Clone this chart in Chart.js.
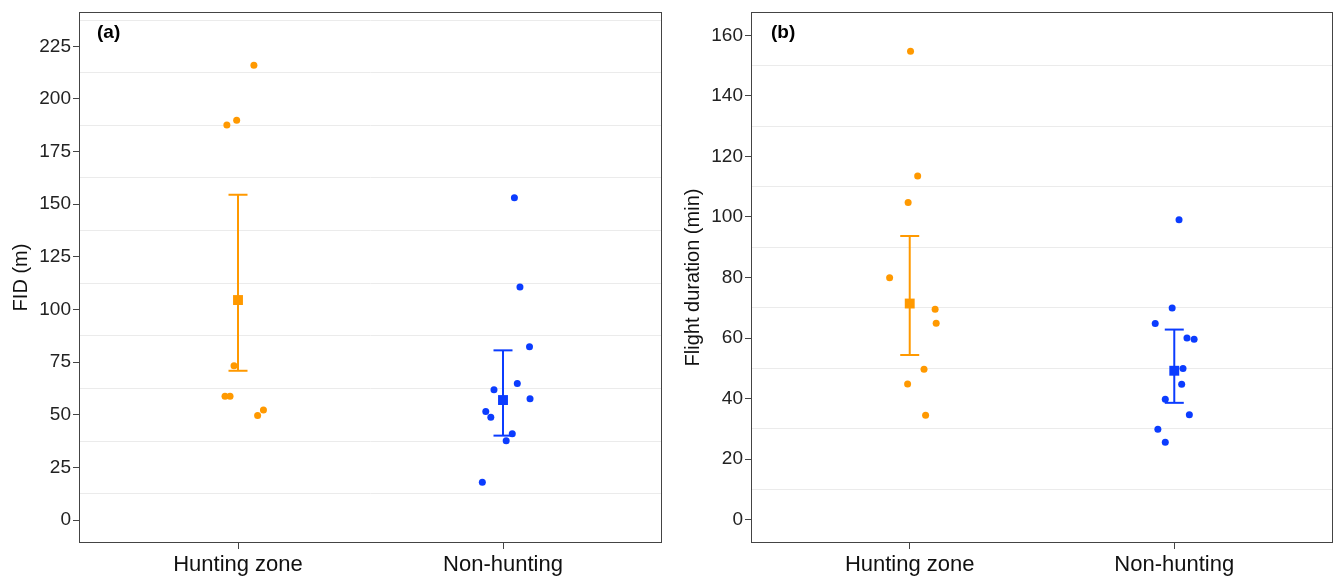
<!DOCTYPE html>
<html>
<head>
<meta charset="utf-8">
<script src="https://cdn.jsdelivr.net/npm/chart.js@4.4.1/dist/chart.umd.min.js"></script>
<style>
  body { margin: 0; background: #fff; }
  #wrap { position: relative; width: 1334px; height: 580px; }
  canvas { position: absolute; top: 0; }
  #chartA { left: 0; }
  #chartB { left: 668px; }
</style>
</head>
<body>
<div id="wrap">
  <canvas id="chartA" width="668" height="580"></canvas>
  <canvas id="chartB" width="666" height="580"></canvas>
</div>
<script>
"use strict"

// categories on the x axis
const groups = ["Hunting zone", "Non-hunting"];

// panel (a) - FID (m), raw points + jitter (in category units)
const fidHunting = [216, 189.9, 187.6, 73.3, 58.8, 58.8, 52.3, 49.7];
const fidHuntingJitter = [0.06, -0.005, -0.042, -0.015, -0.049, -0.03, 0.096, 0.074];
const fidNonHunting = [153.1, 110.7, 82.3, 64.8, 61.9, 57.6, 51.6, 48.8, 41.0, 37.7, 17.9];
const fidNonHuntingJitter = [0.043, 0.064, 0.1, 0.054, -0.034, 0.102, -0.065, -0.046, 0.035, 0.012, -0.078];
// mean and interval per group
const fidMean = [104.5, 57.0];
const fidLow = [70.9, 40.1];
const fidHigh = [154.5, 80.6];
const fidTicks = [0, 25, 50, 75, 100, 125, 150, 175, 200, 225];
const fidMinor = [12.5, 37.5, 62.5, 87.5, 112.5, 137.5, 162.5, 187.5, 212.5, 237.5];

// panel (b) - flight duration (min)
const durHunting = [154.7, 113.5, 104.8, 79.9, 69.5, 64.9, 49.7, 44.8, 34.5];
const durHuntingJitter = [0.003, 0.03, -0.006, -0.076, 0.096, 0.1, 0.054, -0.008, 0.06];
const durNonHunting = [99.1, 69.9, 64.8, 60.0, 59.6, 49.9, 44.7, 39.8, 34.7, 29.9, 25.6];
const durNonHuntingJitter = [0.018, -0.008, -0.072, 0.048, 0.075, 0.033, 0.028, -0.034, 0.057, -0.062, -0.034];
const durMean = [71.4, 49.2];
const durLow = [54.4, 38.6];
const durHigh = [93.7, 62.8];
const durTicks = [0, 20, 40, 60, 80, 100, 120, 140, 160];
const durMinor = [10, 30, 50, 70, 90, 110, 130, 150];

const orange = "#ff9900";
const blue = "#0b3cff";
const groupColors = [orange, blue];

Chart.defaults.font.family = "'Liberation Sans', Arial, sans-serif";
Chart.defaults.color = "#333";

// frame round the plot area + the panel tag
const panelFrame = {
  id: "panelFrame",
  afterDraw(chart, args, opts) {
    const ctx = chart.ctx;
    const a = chart.chartArea;
    ctx.save();
    ctx.strokeStyle = "#444";
    ctx.lineWidth = 1;
    ctx.strokeRect(Math.round(a.left) + 0.5, Math.round(a.top) + 0.5,
      Math.round(a.width) - 1, Math.round(a.height) - 1);
    ctx.fillStyle = "#000";
    ctx.font = "bold 19px 'Liberation Sans', Arial, sans-serif";
    ctx.textBaseline = "middle";
    ctx.fillText(opts.tag, a.left + opts.tagX, a.top + 21);
    ctx.restore();
  }
};

function points(values, jitter, group) {
  return values.map((v, i) => ({ x: group + 1 + jitter[i], y: v }));
}

function makePanel(id, p) {
  const datasets = [];
  // means (first = drawn on top)
  datasets.push({
    data: p.mean.map((v, i) => ({ x: i + 1, y: v })),
    pointStyle: "rect",
    pointRadius: 7,
    pointBorderWidth: 0,
    backgroundColor: groupColors
  });
  // error bars
  for (let g = 0; g < groups.length; g++) {
    datasets.push({
      data: [{ x: g + 1, y: p.low[g] }, { x: g + 1, y: p.high[g] }],
      showLine: true,
      borderColor: groupColors[g],
      borderWidth: 2,
      pointStyle: "line",
      pointRadius: 9.5,
      pointBorderWidth: 2,
      pointBorderColor: groupColors[g]
    });
  }
  // raw points
  datasets.push({
    data: points(p.hunting, p.huntingJitter, 0),
    pointRadius: 3.5,
    pointBorderWidth: 0,
    backgroundColor: orange
  });
  datasets.push({
    data: points(p.nonHunting, p.nonHuntingJitter, 1),
    pointRadius: 3.5,
    pointBorderWidth: 0,
    backgroundColor: blue
  });

  const allTicks = p.ticks.concat(p.minor).sort((a, b) => a - b);
  const isMajor = v => p.ticks.includes(v);

  new Chart(document.getElementById(id), {
    type: "scatter",
    data: { datasets: datasets },
    options: {
      responsive: false,
      animation: false,
      devicePixelRatio: 1,
      layout: {
        autoPadding: false,
        padding: { top: 12, right: p.padRight, left: 0, bottom: 0 }
      },
      plugins: {
        legend: { display: false },
        tooltip: { enabled: false },
        panelFrame: { tag: p.tag, tagX: p.tagX }
      },
      scales: {
        x: {
          type: "linear",
          min: 0.4,
          max: 2.6,
          afterBuildTicks: axis => { axis.ticks = [{ value: 1 }, { value: 2 }]; },
          afterFit: axis => {
            axis.height = 37;
            axis.paddingLeft = 0;
            axis.paddingRight = 0;
          },
          ticks: {
            autoSkip: false,
            maxRotation: 0,
            padding: 3,
            color: "#111",
            font: { size: 22 },
            callback: v => groups[v - 1]
          },
          grid: { drawOnChartArea: false, tickLength: 6, tickColor: "#444" },
          border: { display: false }
        },
        y: {
          min: p.min,
          max: p.max,
          afterBuildTicks: axis => { axis.ticks = allTicks.map(v => ({ value: v })); },
          afterFit: axis => {
            axis.width = p.axisWidth;
            axis.paddingTop = 0;
            axis.paddingBottom = 0;
          },
          ticks: {
            autoSkip: false,
            padding: 2,
            color: "#222",
            font: { size: 19 },
            callback: v => isMajor(v) ? String(v) : ""
          },
          grid: {
            color: c => isMajor(c.tick.value) ? "rgba(0,0,0,0)" : "#ebebeb",
            tickColor: c => isMajor(c.tick.value) ? "#444" : "rgba(0,0,0,0)",
            tickLength: 6,
            lineWidth: 1
          },
          border: { display: false },
          title: {
            display: true,
            text: p.title,
            color: "#111",
            font: { size: 20 },
            padding: { top: p.titlePad, bottom: 0 }
          }
        }
      }
    },
    plugins: [panelFrame]
  });
}

makePanel("chartA", {
  tag: "(a)", tagX: 18, title: "FID (m)", titlePad: 9,
  hunting: fidHunting, huntingJitter: fidHuntingJitter,
  nonHunting: fidNonHunting, nonHuntingJitter: fidNonHuntingJitter,
  mean: fidMean, low: fidLow, high: fidHigh,
  ticks: fidTicks, minor: fidMinor,
  min: -10.9, max: 241.3,
  axisWidth: 79, padRight: 6
});

makePanel("chartB", {
  tag: "(b)", tagX: 20, title: "Flight duration (min)", titlePad: 13,
  hunting: durHunting, huntingJitter: durHuntingJitter,
  nonHunting: durNonHunting, nonHuntingJitter: durNonHuntingJitter,
  mean: durMean, low: durLow, high: durHigh,
  ticks: durTicks, minor: durMinor,
  min: -7.7, max: 167.7,
  axisWidth: 83, padRight: 1
});
</script>
</body>
</html>
